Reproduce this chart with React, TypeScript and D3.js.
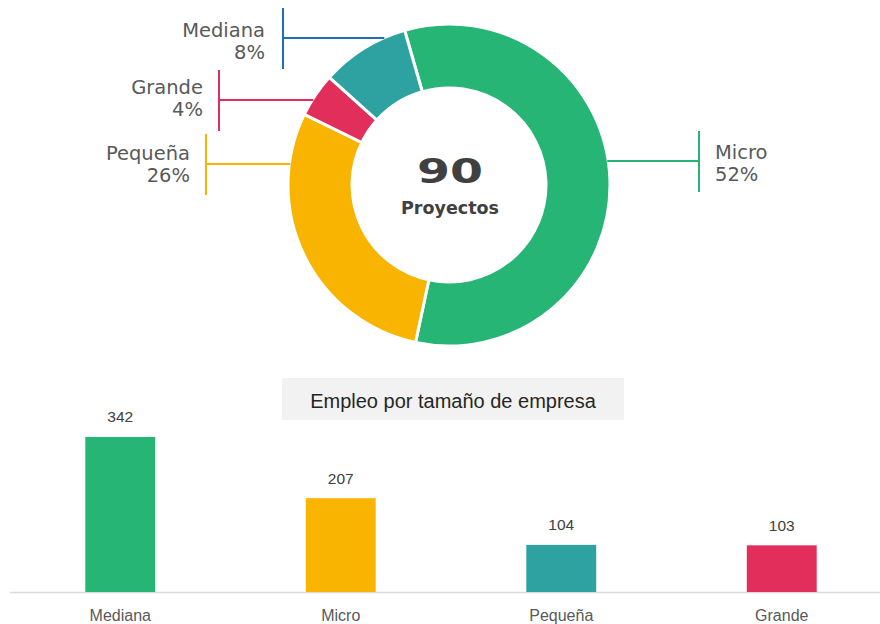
import React from "react";
import * as d3 from "d3";

const donutCategories = ["Micro", "Pequeña", "Grande", "Mediana"];
const donutValues = [52, 26, 4, 8];
const donutColors = ["#26b574", "#f8b400", "#e22e5b", "#2da2a0"];
const leaderColors = ["#26b574", "#f8b400", "#e22e5b", "#1f6fb5"];
const totalProjects = 90;

const barCategories = ["Mediana", "Micro", "Pequeña", "Grande"];
const barValues = [342, 207, 104, 103];
const barColors = ["#26b574", "#f8b400", "#2da2a0", "#e22e5b"];

const W = 880;
const H = 624;

export default function App() {
  const cx = 449;
  const cy = 185;
  const R = 161;
  const r = 97;
  const start = (-16 * Math.PI) / 180;
  const pie = d3
    .pie<number>()
    .sort(null)
    .startAngle(start)
    .endAngle(start + 2 * Math.PI);
  const arcs = pie(donutValues);
  const arcGen = d3.arc<d3.PieArcDatum<number>>().innerRadius(r).outerRadius(R);

  // label layout: [lineY, barX, side, textX, textY1]
  const layout: Record<string, { ly: number; bx: number; side: number; tx: number; ty: number }> = {
    Micro: { ly: 161, bx: 699, side: 1, tx: 715, ty: 159 },
    Pequeña: { ly: 164, bx: 206, side: -1, tx: 190, ty: 160 },
    Grande: { ly: 100, bx: 219, side: -1, tx: 203, ty: 94 },
    Mediana: { ly: 38, bx: 283, side: -1, tx: 265, ty: 37 },
  };

  const x = d3.scaleBand<string>().domain(barCategories).range([10, 892]).paddingInner(0.683).paddingOuter(0.3415);
  const baseY = 592;
  const y = d3.scaleLinear().domain([0, 400]).range([baseY, baseY - 181.3]);

  return (
    <svg width={W} height={H} style={{ position: "absolute", left: 0, top: 0, background: "#fff" }}>
      <g transform={`translate(${cx},${cy})`}>
        {arcs.map((a, i) => (
          <path key={i} d={arcGen(a) || ""} fill={donutColors[i]} stroke="#fff" strokeWidth={3} />
        ))}
      </g>
      {donutCategories.map((c, i) => {
        const L = layout[c];
        const dy = L.ly - cy;
        const ex = cx + L.side * Math.sqrt(R * R - dy * dy) - L.side * 1;
        const pct = Math.round((donutValues[i] / totalProjects) * 100 * 0 + donutValues[i]);
        return (
          <g key={c}>
            <line x1={L.bx} y1={L.ly} x2={ex} y2={L.ly} stroke={leaderColors[i]} strokeWidth={2} />
            <line x1={L.bx} y1={L.ly - 30} x2={L.bx} y2={L.ly + 31} stroke={leaderColors[i]} strokeWidth={2} />
            <text
              x={L.tx}
              y={L.ty}
              textAnchor={L.side > 0 ? "start" : "end"}
              fontFamily="DejaVu Sans"
              fontSize={19.5}
              fill="#595959"
            >
              <tspan x={L.tx} y={L.ty}>{c}</tspan>
              <tspan x={L.tx} y={L.ty + 21.5}>{`${pct}%`}</tspan>
            </text>
          </g>
        );
      })}
      <text
        x={cx + 1}
        y={183}
        textAnchor="middle"
        fontFamily="DejaVu Sans"
        fontWeight="bold"
        fontSize={33}
        fill="#404040"
        textLength={66}
        lengthAdjust="spacingAndGlyphs"
      >
        {totalProjects}
      </text>
      <text x={cx + 1} y={214} textAnchor="middle" fontFamily="DejaVu Sans" fontWeight="bold" fontSize={17.5} fill="#404040">
        Proyectos
      </text>

      <rect x={282} y={378} width={342} height={42} fill="#f2f2f2" />
      <text x={453} y={408} textAnchor="middle" fontFamily="Liberation Sans" fontSize={20} fill="#262626">
        Empleo por tamaño de empresa
      </text>

      <line x1={10} x2={880} y1={baseY + 0.5} y2={baseY + 0.5} stroke="#d9d9d9" strokeWidth={1.5} />
      {barCategories.map((c, i) => (
        <g key={c}>
          <rect x={x(c)!} y={y(barValues[i])} width={x.bandwidth()} height={baseY - y(barValues[i])} fill={barColors[i]} />
          <text
            x={x(c)! + x.bandwidth() / 2}
            y={y(barValues[i]) - 14.5}
            textAnchor="middle"
            fontFamily="Liberation Sans"
            fontSize={15.5}
            fill="#404040"
          >
            {barValues[i]}
          </text>
          <text
            x={x(c)! + x.bandwidth() / 2}
            y={621}
            textAnchor="middle"
            fontFamily="Liberation Sans"
            fontSize={16}
            fill="#595959"
          >
            {c}
          </text>
        </g>
      ))}
    </svg>
  );
}
